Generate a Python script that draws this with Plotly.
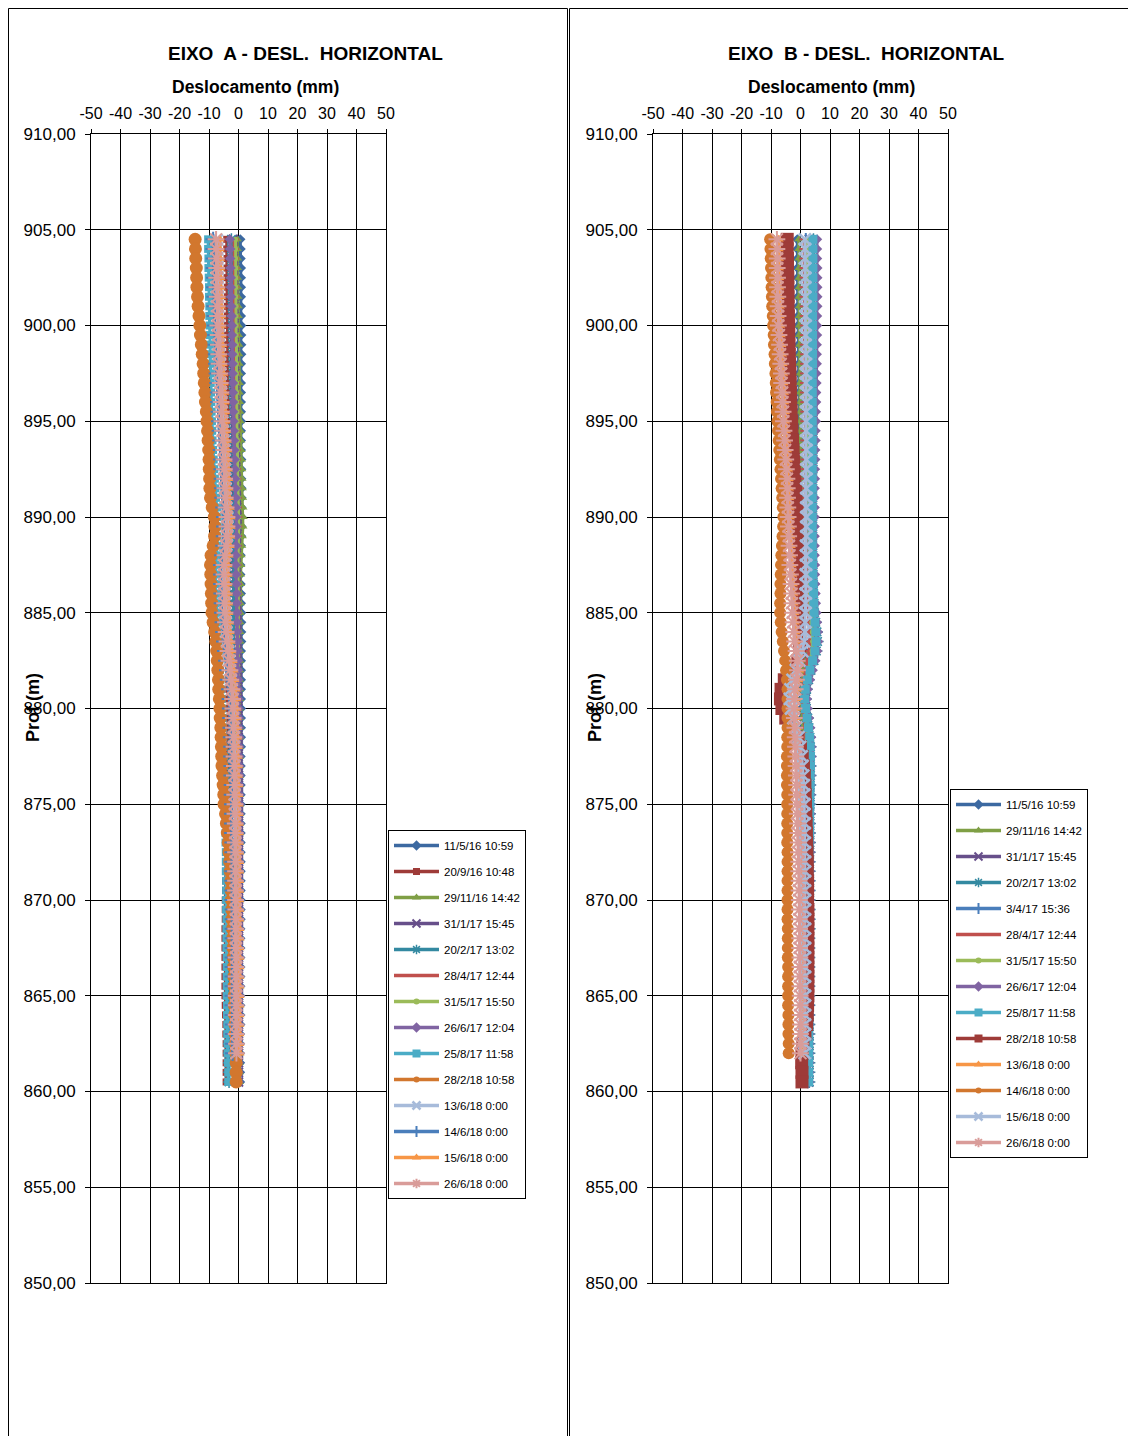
import plotly.graph_objects as go

W, H = 1128, 1436

# ---------------- data ----------------
DEPTH = [904.5, 904.0, 903.5, 903.0, 902.5, 902.0, 901.5, 901.0, 900.5, 900.0,
         899.5, 899.0, 898.5, 898.0, 897.5, 897.0, 896.5, 896.0, 895.5, 895.0,
         894.5, 894.0, 893.5, 893.0, 892.5, 892.0, 891.5, 891.0, 890.5, 890.0,
         889.5, 889.0, 888.5, 888.0, 887.5, 887.0, 886.5, 886.0, 885.5, 885.0,
         884.5, 884.0, 883.5, 883.0, 882.5, 882.0, 881.5, 881.0, 880.5, 880.0,
         879.5, 879.0, 878.5, 878.0, 877.5, 877.0, 876.5, 876.0, 875.5, 875.0,
         874.5, 874.0, 873.5, 873.0, 872.5, 872.0, 871.5, 871.0, 870.5, 870.0,
         869.5, 869.0, 868.5, 868.0, 867.5, 867.0, 866.5, 866.0, 865.5, 865.0,
         864.5, 864.0, 863.5, 863.0, 862.5, 862.0, 861.5, 861.0, 860.5]

X_TICKS = [-50, -40, -30, -20, -10, 0, 10, 20, 30, 40, 50]
X_TICK_TEXT = ["-50", "-40", "-30", "-20", "-10", "0", "10", "20", "30", "40", "50"]
Y_TICKS = [850, 855, 860, 865, 870, 875, 880, 885, 890, 895, 900, 905, 910]

# ---- EIXO A ----
A_NAMES = ["11/5/16 10:59", "20/9/16 10:48", "29/11/16 14:42", "31/1/17 15:45",
           "20/2/17 13:02", "28/4/17 12:44", "31/5/17 15:50", "26/6/17 12:04",
           "25/8/17 11:58", "28/2/18 10:58", "13/6/18 0:00", "14/6/18 0:00",
           "15/6/18 0:00", "26/6/18 0:00"]

A_110516 = [0.6, 0.7, 0.7, 0.8, 0.8, 0.8, 0.8, 0.8, 0.8, 0.9,
            0.9, 0.9, 0.9, 0.8, 0.8, 0.8, 0.8, 0.8, 0.8, 0.8,
            0.8, 0.8, 0.8, 0.9, 0.9, 0.9, 1.0, 1.0, 1.0, 1.0,
            1.0, 0.9, 0.8, 0.7, 0.6, 0.6, 0.7, 0.8, 0.8, 0.9,
            0.9, 0.9, 0.9, 0.8, 0.8, 0.8, 0.8, 0.8, 0.8, 0.8,
            0.8, 0.8, 0.8, 0.8, 0.7, 0.7, 0.7, 0.7, 0.7, 0.7,
            0.7, 0.7, 0.7, 0.7, 0.7, 0.7, 0.7, 0.7, 0.7, 0.7,
            0.7, 0.7, 0.6, 0.6, 0.6, 0.6, 0.6, 0.6, 0.6, 0.6,
            0.6, 0.6, 0.6, 0.5, 0.5, 0.5, 0.5, 0.5, 0.5]
A_200916 = [-4.0, -4.0, -3.9, -3.9, -3.9, -3.8, -3.8, -3.8, -3.8, -3.8,
            -3.7, -3.7, -3.7, -3.6, -3.6, -3.6, -3.5, -3.5, -3.5, -3.5,
            -3.4, -3.4, -3.3, -3.3, -3.2, -3.2, -3.1, -3.1, -3.0, -3.0,
            -3.0, -3.0, -3.1, -3.2, -3.2, -3.2, -3.1, -3.1, -3.0, -3.0,
            -3.0, -3.0, -3.1, -3.1, -3.2, -3.2, -3.3, -3.3, -3.4, -3.5,
            -3.5, -3.6, -3.6, -3.7, -3.7, -3.8, -3.8, -3.9, -3.9, -4.0,
            -4.0, -4.1, -4.1, -4.2, -4.2, -4.3, -4.3, -4.4, -4.4, -4.5,
            -4.5, -4.5, -4.6, -4.6, -4.6, -4.6, -4.6, -4.6, -4.6, -4.6,
            -4.5, -4.4, -4.3, -4.3, -4.2, -4.2, -4.2, -4.2, -4.2]
A_291116 = [-0.4, -0.4, -0.3, -0.3, -0.3, -0.2, -0.2, -0.1, -0.1, 0.0,
            0.0, 0.1, 0.1, 0.2, 0.2, 0.3, 0.3, 0.4, 0.5, 0.6,
            0.7, 0.8, 0.9, 1.0, 1.1, 1.2, 1.3, 1.4, 1.5, 1.6,
            1.5, 1.3, 1.1, 0.9, 0.8, 0.7, 0.7, 0.6, 0.6, 0.6,
            0.5, 0.5, 0.5, 0.5, 0.5, 0.4, 0.4, 0.4, 0.4, 0.4,
            0.4, 0.4, 0.4, 0.4, 0.4, 0.4, 0.4, 0.4, 0.4, 0.4,
            0.4, 0.4, 0.4, 0.4, 0.4, 0.4, 0.4, 0.4, 0.4, 0.4,
            0.4, 0.4, 0.4, 0.4, 0.3, 0.3, 0.3, 0.3, 0.3, 0.3,
            0.3, 0.3, 0.3, 0.3, 0.3, 0.3, 0.3, 0.3, 0.3]
A_310117 = [-1.8, -1.8, -1.7, -1.7, -1.7, -1.6, -1.6, -1.6, -1.5, -1.5,
            -1.5, -1.4, -1.4, -1.4, -1.3, -1.3, -1.3, -1.2, -1.2, -1.1,
            -1.1, -1.0, -1.0, -0.9, -0.9, -0.8, -0.8, -0.7, -0.6, -0.5,
            -0.5, -0.6, -0.7, -0.8, -0.8, -0.7, -0.7, -0.6, -0.6, -0.5,
            -0.5, -0.5, -0.4, -0.4, -0.4, -0.3, -0.3, -0.3, -0.2, -0.2,
            -0.2, -0.2, -0.1, -0.1, -0.1, -0.1, 0.0, 0.0, 0.0, 0.0,
            0.0, 0.0, 0.0, 0.0, 0.0, 0.0, 0.0, 0.0, 0.0, 0.0,
            0.0, 0.0, 0.0, 0.0, 0.0, 0.0, 0.0, 0.0, 0.0, 0.0,
            0.0, 0.0, 0.0, 0.0, 0.0, 0.0, 0.0, 0.0, 0.0]
A_200217 = [-2.4, -2.4, -2.3, -2.3, -2.3, -2.2, -2.2, -2.2, -2.1, -2.1,
            -2.1, -2.0, -2.0, -2.0, -1.9, -1.9, -1.9, -1.8, -1.8, -1.8,
            -1.7, -1.7, -1.6, -1.6, -1.5, -1.5, -1.4, -1.4, -1.3, -1.2,
            -1.2, -1.3, -1.4, -1.5, -1.6, -1.6, -1.6, -1.6, -1.6, -1.6,
            -1.6, -1.7, -1.7, -1.8, -1.8, -1.9, -1.9, -2.0, -2.0, -2.1,
            -2.1, -2.2, -2.2, -2.3, -2.3, -2.4, -2.4, -2.5, -2.5, -2.6,
            -2.6, -2.6, -2.7, -2.7, -2.7, -2.8, -2.8, -2.8, -2.9, -2.9,
            -2.9, -2.9, -3.0, -3.0, -3.0, -3.0, -3.1, -3.1, -3.1, -3.1,
            -3.1, -3.2, -3.2, -3.2, -3.2, -3.2, -3.2, -3.2, -3.2]
A_280417 = [-1.5, -1.5, -1.5, -1.4, -1.4, -1.4, -1.4, -1.3, -1.3, -1.3,
            -1.3, -1.2, -1.2, -1.2, -1.2, -1.1, -1.1, -1.1, -1.0, -1.0,
            -1.0, -0.9, -0.9, -0.8, -0.8, -0.7, -0.7, -0.6, -0.5, -0.4,
            -0.4, -0.5, -0.6, -0.7, -0.7, -0.7, -0.6, -0.6, -0.6, -0.5,
            -0.5, -0.5, -0.5, -0.4, -0.4, -0.4, -0.4, -0.4, -0.3, -0.3,
            -0.3, -0.3, -0.3, -0.3, -0.3, -0.3, -0.3, -0.3, -0.3, -0.3,
            -0.3, -0.3, -0.3, -0.3, -0.3, -0.4, -0.4, -0.4, -0.4, -0.4,
            -0.4, -0.4, -0.4, -0.4, -0.4, -0.4, -0.4, -0.4, -0.4, -0.4,
            -0.4, -0.4, -0.4, -0.4, -0.4, -0.4, -0.4, -0.4, -0.4]
A_310517 = [-1.0, -1.0, -1.0, -0.9, -0.9, -0.9, -0.9, -0.8, -0.8, -0.8,
            -0.8, -0.7, -0.7, -0.7, -0.7, -0.6, -0.6, -0.6, -0.5, -0.5,
            -0.5, -0.4, -0.4, -0.3, -0.3, -0.2, -0.2, -0.1, 0.0, 0.1,
            0.1, 0.0, -0.1, -0.2, -0.2, -0.2, -0.1, -0.1, -0.1, 0.0,
            0.0, 0.0, 0.0, 0.0, 0.0, 0.0, 0.0, 0.0, 0.0, 0.0,
            0.0, 0.0, 0.0, 0.0, 0.0, 0.0, 0.0, 0.0, 0.0, 0.0,
            0.0, 0.0, 0.0, 0.0, 0.0, 0.0, 0.0, 0.0, 0.0, 0.0,
            0.0, 0.0, 0.0, 0.0, 0.0, 0.0, 0.0, 0.0, 0.0, 0.0,
            0.0, 0.0, 0.0, 0.0, 0.0, 0.0, 0.0, 0.0, 0.0]
A_260617 = [-2.9, -2.8, -2.8, -2.7, -2.6, -2.6, -2.5, -2.4, -2.3, -2.2,
            -2.2, -2.1, -2.1, -2.0, -2.0, -1.9, -1.9, -1.8, -1.8, -1.7,
            -1.6, -1.5, -1.4, -1.3, -1.2, -1.1, -1.0, -0.9, -0.8, -0.8,
            -0.7, -0.7, -0.8, -0.9, -0.9, -0.8, -0.7, -0.6, -0.6, -0.5,
            -0.5, -0.4, -0.3, -0.3, -0.2, -0.2, -0.1, -0.1, 0.0, 0.0,
            0.1, 0.1, 0.2, 0.2, 0.2, 0.3, 0.3, 0.3, 0.3, 0.3,
            0.3, 0.3, 0.3, 0.2, 0.2, 0.2, 0.2, 0.2, 0.2, 0.2,
            0.2, 0.2, 0.2, 0.2, 0.2, 0.2, 0.2, 0.2, 0.2, 0.2,
            0.1, 0.1, 0.1, 0.1, 0.0, 0.0, 0.0, 0.0, 0.0]
A_250817 = [-10.3, -10.3, -10.2, -10.2, -10.1, -10.0, -10.0, -9.9, -9.9, -9.8,
            -9.7, -9.7, -9.6, -9.5, -9.4, -9.4, -9.3, -9.2, -9.1, -9.0,
            -8.9, -8.8, -8.6, -8.4, -8.2, -8.0, -7.8, -7.6, -7.3, -7.0,
            -7.0, -7.1, -7.3, -7.6, -7.8, -7.8, -7.8, -7.7, -7.6, -7.5,
            -7.3, -7.1, -6.9, -6.7, -6.5, -6.3, -6.1, -5.9, -5.7, -5.5,
            -5.4, -5.3, -5.2, -5.1, -5.0, -4.9, -4.8, -4.7, -4.6, -4.5,
            -4.5, -4.4, -4.4, -4.4, -4.3, -4.3, -4.3, -4.2, -4.2, -4.2,
            -4.2, -4.1, -4.1, -4.1, -4.1, -4.0, -4.0, -4.0, -4.0, -4.0,
            -3.9, -3.9, -3.8, -3.8, -3.7, -3.7, -3.6, -3.5, -3.5]
A_280218 = [-14.7, -14.6, -14.5, -14.3, -14.2, -14.1, -13.9, -13.7, -13.4, -13.1,
            -12.9, -12.6, -12.3, -12.0, -11.8, -11.6, -11.4, -11.2, -10.9, -10.7,
            -10.5, -10.3, -10.1, -10.0, -9.9, -9.8, -9.7, -9.5, -8.9, -8.2,
            -8.0, -8.1, -8.6, -9.3, -9.5, -9.4, -9.3, -9.2, -9.1, -9.0,
            -8.6, -8.1, -7.7, -7.4, -7.2, -7.0, -6.8, -6.7, -6.5, -6.3,
            -6.2, -6.0, -5.9, -5.8, -5.7, -5.6, -5.4, -5.2, -5.0, -4.9,
            -4.4, -4.1, -3.8, -3.5, -3.2, -3.0, -2.8, -2.6, -2.5, -2.4,
            -2.3, -2.2, -2.1, -2.0, -1.9, -1.8, -1.7, -1.6, -1.5, -1.5,
            -1.4, -1.3, -1.2, -1.1, -1.0, -0.9, -0.8, -0.8, -0.8]
A_130618 = [-7.0, -7.0, -6.9, -6.9, -6.8, -6.8, -6.7, -6.7, -6.6, -6.5,
            -6.4, -6.3, -6.2, -6.1, -5.9, -5.7, -5.6, -5.5, -5.4, -5.2,
            -5.0, -4.8, -4.6, -4.5, -4.4, -4.3, -4.2, -4.1, -3.8, -3.5,
            -3.5, -3.6, -3.8, -4.2, -4.5, -4.5, -4.5, -4.4, -4.3, -4.2,
            -4.0, -3.8, -3.5, -3.2, -2.9, -2.6, -2.3, -2.0, -1.8, -1.7,
            -1.6, -1.5, -1.4, -1.3, -1.3, -1.2, -1.2, -1.1, -1.1, -1.0,
            -1.0, -1.0, -0.9, -0.9, -0.9, -0.9, -0.9, -0.8, -0.8, -0.8,
            -0.8, -0.8, -0.8, -0.8, -0.8, -0.7, -0.7, -0.7, -0.7, -0.7,
            -0.7, -0.7, -0.7, -0.7, -0.7, -0.7, None, None, None]
A_140618 = [-8.6, -8.6, -8.5, -8.5, -8.4, -8.4, -8.3, -8.3, -8.2, -8.1,
            -8.0, -7.9, -7.8, -7.7, -7.5, -7.3, -7.1, -7.0, -6.9, -6.7,
            -6.5, -6.3, -6.1, -6.0, -5.9, -5.8, -5.7, -5.6, -5.3, -5.0,
            -5.0, -5.1, -5.3, -5.7, -6.0, -6.0, -6.0, -5.9, -5.8, -5.7,
            -5.5, -5.3, -5.0, -4.7, -4.3, -4.0, -3.7, -3.3, -3.1, -3.0,
            -2.9, -2.8, -2.7, -2.6, -2.6, -2.5, -2.5, -2.4, -2.4, -2.3,
            -2.3, -2.3, -2.3, -2.2, -2.2, -2.2, -2.2, -2.2, -2.2, -2.2,
            -2.1, -2.1, -2.1, -2.1, -2.1, -2.1, -2.1, -2.1, -2.1, -2.1,
            -2.1, -2.1, -2.0, -2.0, -2.0, -2.0, None, None, None]
A_150618 = [-6.4, -6.4, -6.3, -6.2, -6.2, -6.1, -6.0, -6.0, -5.9, -5.8,
            -5.7, -5.6, -5.5, -5.4, -5.2, -5.0, -4.8, -4.7, -4.6, -4.4,
            -4.2, -4.0, -3.8, -3.7, -3.6, -3.5, -3.4, -3.3, -3.0, -2.7,
            -2.7, -2.8, -3.0, -3.4, -3.7, -3.7, -3.7, -3.6, -3.5, -3.4,
            -3.2, -3.0, -2.7, -2.4, -2.0, -1.7, -1.4, -1.0, -0.8, -0.7,
            -0.6, -0.5, -0.4, -0.3, -0.3, -0.2, -0.2, -0.1, -0.1, 0.0,
            0.0, 0.1, 0.1, 0.1, 0.2, 0.2, 0.2, 0.2, 0.2, 0.2,
            0.3, 0.3, 0.3, 0.3, 0.3, 0.3, 0.3, 0.3, 0.3, 0.3,
            0.3, 0.3, 0.3, 0.3, 0.3, 0.3, None, None, None]
A_260618 = [-7.6, -7.6, -7.5, -7.4, -7.4, -7.3, -7.2, -7.2, -7.1, -7.0,
            -6.9, -6.8, -6.7, -6.6, -6.4, -6.2, -6.0, -5.9, -5.8, -5.6,
            -5.4, -5.2, -5.0, -4.9, -4.8, -4.7, -4.6, -4.5, -4.2, -3.9,
            -3.9, -4.0, -4.2, -4.6, -4.9, -4.9, -4.9, -4.8, -4.7, -4.6,
            -4.4, -4.2, -3.9, -3.6, -3.2, -2.9, -2.6, -2.2, -2.0, -1.9,
            -1.8, -1.7, -1.6, -1.5, -1.5, -1.4, -1.4, -1.3, -1.3, -1.2,
            -1.2, -1.1, -1.1, -1.1, -1.0, -1.0, -1.0, -1.0, -1.0, -1.0,
            -0.9, -0.9, -0.9, -0.9, -0.9, -0.8, -0.8, -0.8, -0.8, -0.8,
            -0.8, -0.8, -0.8, -0.8, -0.7, -0.7, None, None, None]

# ---- EIXO B ----
B_NAMES = ["11/5/16 10:59", "29/11/16 14:42", "31/1/17 15:45", "20/2/17 13:02",
           "3/4/17 15:36", "28/4/17 12:44", "31/5/17 15:50", "26/6/17 12:04",
           "25/8/17 11:58", "28/2/18 10:58", "13/6/18 0:00", "14/6/18 0:00",
           "15/6/18 0:00", "26/6/18 0:00"]

B_110516 = [-1.1, -1.1, -1.0, -1.0, -1.0, -0.9, -0.9, -0.9, -0.8, -0.8,
            -0.8, -0.7, -0.7, -0.6, -0.6, -0.5, -0.5, -0.4, -0.4, -0.3,
            -0.3, -0.2, -0.2, -0.1, -0.1, 0.0, 0.0, 0.1, 0.1, 0.2,
            0.2, 0.3, 0.3, 0.4, 0.4, 0.5, 0.5, 0.6, 0.7, 0.8,
            0.9, 1.0, 1.2, 1.4, 1.5, 1.2, 0.8, 0.4, 0.3, 0.3,
            0.5, 0.8, 1.1, 1.4, 1.6, 1.7, 1.8, 1.8, 1.9, 1.9,
            1.9, 2.0, 2.0, 2.0, 2.0, 2.0, 2.1, 2.1, 2.1, 2.1,
            2.1, 2.1, 2.1, 2.1, 2.1, 2.1, 2.1, 2.1, 2.1, 2.1,
            2.1, 2.1, 2.1, 2.0, 2.0, 2.0, 2.0, 2.0, 2.0]
B_291116 = [-0.6, -0.6, -0.6, -0.5, -0.5, -0.5, -0.5, -0.4, -0.4, -0.4,
            -0.4, -0.3, -0.3, -0.3, -0.2, -0.2, -0.2, -0.1, -0.1, -0.1,
            0.0, 0.0, 0.0, 0.1, 0.1, 0.1, 0.2, 0.2, 0.2, 0.3,
            0.3, 0.3, 0.4, 0.4, 0.5, 0.5, 0.6, 0.6, 0.7, 0.8,
            0.9, 1.0, 1.1, 1.2, 1.2, 1.0, 0.7, 0.4, 0.3, 0.4,
            0.6, 0.9, 1.1, 1.3, 1.5, 1.6, 1.6, 1.7, 1.7, 1.7,
            1.7, 1.7, 1.8, 1.8, 1.8, 1.8, 1.8, 1.8, 1.8, 1.8,
            1.8, 1.8, 1.8, 1.8, 1.8, 1.8, 1.8, 1.8, 1.8, 1.8,
            1.8, 1.8, 1.8, 1.8, 1.8, 1.8, 1.8, 1.8, 1.8]
B_310117 = [3.0, 3.0, 3.0, 3.1, 3.1, 3.1, 3.1, 3.2, 3.2, 3.2,
            3.2, 3.2, 3.3, 3.3, 3.3, 3.3, 3.3, 3.4, 3.4, 3.4,
            3.4, 3.4, 3.5, 3.5, 3.5, 3.5, 3.6, 3.6, 3.6, 3.6,
            3.6, 3.7, 3.7, 3.7, 3.8, 3.8, 3.9, 4.0, 4.1, 4.2,
            4.4, 4.6, 4.7, 4.5, 4.0, 3.2, 2.4, 1.8, 1.6, 1.8,
            2.2, 2.5, 2.8, 3.0, 3.1, 3.1, 3.1, 3.1, 3.0, 3.0,
            3.0, 3.0, 3.0, 3.0, 3.0, 2.9, 2.9, 2.9, 2.9, 2.9,
            2.9, 2.9, 2.9, 2.9, 2.9, 2.9, 2.9, 2.9, 2.9, 2.9,
            2.8, 2.8, 2.8, 2.8, 2.8, 2.8, 2.8, 2.8, 2.8]
B_200217 = [4.4, 4.4, 4.4, 4.4, 4.4, 4.4, 4.3, 4.3, 4.3, 4.3,
            4.3, 4.3, 4.3, 4.3, 4.3, 4.3, 4.3, 4.3, 4.3, 4.3,
            4.3, 4.3, 4.3, 4.3, 4.3, 4.2, 4.2, 4.2, 4.2, 4.2,
            4.2, 4.2, 4.2, 4.2, 4.3, 4.3, 4.4, 4.5, 4.6, 4.8,
            5.2, 5.6, 5.8, 5.4, 4.6, 3.6, 2.8, 2.1, 1.8, 2.0,
            2.5, 2.9, 3.2, 3.4, 3.4, 3.4, 3.4, 3.3, 3.3, 3.3,
            3.2, 3.2, 3.2, 3.2, 3.1, 3.1, 3.1, 3.1, 3.1, 3.1,
            3.1, 3.1, 3.1, 3.0, 3.0, 3.0, 3.0, 3.0, 3.0, 3.0,
            3.0, 3.0, 3.0, 3.0, 3.0, 3.0, 3.0, 3.0, 3.0]
B_030417 = [1.8, 1.8, 1.8, 1.8, 1.9, 1.9, 1.9, 1.9, 1.9, 2.0,
            2.0, 2.0, 2.0, 2.0, 2.1, 2.1, 2.1, 2.1, 2.1, 2.1,
            2.1, 2.1, 2.2, 2.2, 2.2, 2.2, 2.2, 2.3, 2.3, 2.3,
            2.3, 2.4, 2.4, 2.5, 2.5, 2.6, 2.7, 2.8, 2.9, 3.0,
            3.2, 3.4, 3.5, 3.3, 2.8, 2.1, 1.5, 1.0, 0.9, 1.1,
            1.5, 1.9, 2.3, 2.5, 2.6, 2.7, 2.7, 2.7, 2.7, 2.7,
            2.7, 2.7, 2.7, 2.6, 2.6, 2.6, 2.6, 2.6, 2.6, 2.6,
            2.6, 2.6, 2.6, 2.6, 2.6, 2.6, 2.6, 2.6, 2.6, 2.6,
            2.6, 2.6, 2.6, 2.5, 2.5, 2.5, 2.5, 2.5, 2.5]
B_280417 = [1.2, 1.2, 1.2, 1.3, 1.3, 1.3, 1.3, 1.4, 1.4, 1.4,
            1.4, 1.4, 1.5, 1.5, 1.5, 1.5, 1.5, 1.6, 1.6, 1.6,
            1.6, 1.6, 1.7, 1.7, 1.7, 1.7, 1.8, 1.8, 1.8, 1.8,
            1.9, 1.9, 2.0, 2.0, 2.1, 2.2, 2.3, 2.4, 2.5, 2.6,
            2.8, 3.0, 3.1, 2.9, 2.4, 1.7, 1.1, 0.7, 0.6, 0.8,
            1.2, 1.6, 2.0, 2.2, 2.3, 2.4, 2.4, 2.4, 2.4, 2.4,
            2.4, 2.4, 2.4, 2.4, 2.4, 2.3, 2.3, 2.3, 2.3, 2.3,
            2.3, 2.3, 2.3, 2.3, 2.3, 2.3, 2.3, 2.3, 2.3, 2.3,
            2.3, 2.3, 2.3, 2.3, 2.2, 2.2, 2.2, 2.2, 2.2]
B_310517 = [2.2, 2.2, 2.2, 2.3, 2.3, 2.3, 2.3, 2.4, 2.4, 2.4,
            2.4, 2.4, 2.5, 2.5, 2.5, 2.5, 2.5, 2.6, 2.6, 2.6,
            2.6, 2.6, 2.7, 2.7, 2.7, 2.7, 2.8, 2.8, 2.8, 2.8,
            2.9, 2.9, 3.0, 3.0, 3.1, 3.2, 3.3, 3.4, 3.5, 3.6,
            3.8, 4.0, 4.1, 3.9, 3.4, 2.7, 2.0, 1.5, 1.3, 1.5,
            1.9, 2.3, 2.7, 2.9, 3.0, 3.1, 3.1, 3.1, 3.1, 3.1,
            3.1, 3.1, 3.1, 3.1, 3.1, 3.0, 3.0, 3.0, 3.0, 3.0,
            3.0, 3.0, 3.0, 3.0, 3.0, 3.0, 3.0, 3.0, 3.0, 3.0,
            3.0, 3.0, 3.0, 3.0, 2.9, 2.9, 2.9, 2.9, 2.9]
B_260617 = [5.6, 5.6, 5.6, 5.7, 5.7, 5.7, 5.7, 5.7, 5.6, 5.6,
            5.6, 5.5, 5.5, 5.5, 5.4, 5.4, 5.3, 5.3, 5.2, 5.2,
            5.1, 5.1, 5.0, 5.0, 4.9, 4.9, 4.8, 4.8, 4.8, 4.8,
            4.8, 4.8, 4.8, 4.8, 4.9, 4.9, 5.0, 5.1, 5.2, 5.4,
            5.6, 5.9, 6.0, 5.7, 5.0, 4.1, 3.2, 2.5, 2.2, 2.4,
            2.9, 3.3, 3.6, 3.7, 3.7, 3.6, 3.6, 3.5, 3.5, 3.4,
            3.4, 3.3, 3.3, 3.3, 3.3, 3.2, 3.2, 3.2, 3.2, 3.2,
            3.2, 3.2, 3.1, 3.1, 3.1, 3.1, 3.1, 3.1, 3.1, 3.1,
            3.1, 3.1, 3.0, 3.0, 3.0, 3.0, 3.0, 3.0, 3.0]
B_250817 = [4.2, 4.2, 4.2, 4.2, 4.2, 4.2, 4.2, 4.2, 4.1, 4.1,
            4.1, 4.1, 4.1, 4.1, 4.0, 4.0, 4.0, 4.0, 4.0, 4.0,
            4.0, 4.0, 4.0, 4.0, 4.0, 4.0, 4.0, 4.0, 4.0, 4.0,
            4.0, 4.0, 4.0, 4.1, 4.1, 4.2, 4.3, 4.4, 4.5, 4.6,
            4.9, 5.2, 5.3, 4.9, 4.1, 3.2, 2.3, 1.6, 1.4, 1.7,
            2.2, 2.7, 3.1, 3.3, 3.4, 3.4, 3.3, 3.3, 3.2, 3.2,
            3.1, 3.1, 3.1, 3.0, 3.0, 3.0, 3.0, 3.0, 2.9, 2.9,
            2.9, 2.9, 2.9, 2.9, 2.9, 2.9, 2.9, 2.9, 2.9, 2.9,
            2.9, 2.9, 2.9, 2.8, 2.8, 2.8, 2.8, 2.8, 2.8]
B_280218 = [-4.5, -4.5, -4.4, -4.4, -4.3, -4.3, -4.2, -4.2, -4.1, -4.0,
            -4.0, -3.9, -3.8, -3.7, -3.6, -3.5, -3.4, -3.3, -3.2, -3.0,
            -2.9, -2.7, -2.5, -2.3, -2.1, -1.9, -1.7, -1.5, -1.3, -1.2,
            -1.1, -1.1, -1.0, -1.0, -0.9, -0.9, -0.8, -0.8, -0.7, -0.7,
            -0.6, -0.4, -0.2, -0.3, -0.9, -2.5, -5.5, -6.6, -6.8, -6.3,
            -5.0, -2.8, -1.0, 0.0, 0.6, 1.0, 1.3, 1.5, 1.6, 1.7,
            1.8, 1.9, 2.0, 2.1, 2.2, 2.3, 2.3, 2.4, 2.4, 2.4,
            2.5, 2.5, 2.5, 2.5, 2.5, 2.5, 2.5, 2.5, 2.5, 2.5,
            2.4, 2.3, 2.1, 1.5, 0.8, 0.5, 0.4, 0.5, 0.5]
B_130618 = [-7.4, -7.4, -7.3, -7.3, -7.2, -7.2, -7.1, -7.0, -7.0, -6.9,
            -6.7, -6.5, -6.3, -6.1, -5.9, -5.8, -5.6, -5.5, -5.3, -5.2,
            -5.0, -4.8, -4.6, -4.4, -4.2, -4.0, -3.9, -3.8, -3.7, -3.6,
            -3.5, -3.4, -3.3, -3.1, -3.0, -2.8, -2.6, -2.4, -2.3, -2.1,
            -1.9, -1.7, -1.4, -0.9, -0.5, -0.4, -0.8, -1.2, -1.5, -1.6,
            -1.5, -1.3, -1.2, -1.1, -1.0, -0.9, -0.8, -0.7, -0.7, -0.6,
            -0.5, -0.4, -0.3, -0.2, -0.1, 0.0, 0.0, 0.1, 0.1, 0.2,
            0.2, 0.2, 0.3, 0.3, 0.3, 0.4, 0.4, 0.4, 0.4, 0.5,
            0.5, 0.5, 0.5, 0.5, 0.5, 0.5, None, None, None]
B_140618 = [-10.3, -10.2, -10.1, -10.0, -9.9, -9.8, -9.7, -9.6, -9.4, -9.3,
            -9.1, -9.0, -8.8, -8.7, -8.5, -8.4, -8.3, -8.1, -8.0, -7.8,
            -7.6, -7.4, -7.2, -7.0, -6.8, -6.6, -6.4, -6.2, -6.0, -5.8,
            -5.9, -6.1, -6.3, -6.5, -6.6, -6.7, -6.8, -6.8, -6.9, -6.9,
            -6.7, -6.4, -6.0, -5.6, -5.2, -4.9, -4.6, -4.4, -4.4, -4.4,
            -4.4, -4.4, -4.5, -4.5, -4.6, -4.6, -4.6, -4.6, -4.5, -4.5,
            -4.5, -4.5, -4.5, -4.5, -4.4, -4.4, -4.4, -4.4, -4.4, -4.4,
            -4.4, -4.4, -4.3, -4.3, -4.3, -4.3, -4.2, -4.2, -4.2, -4.2,
            -4.2, -4.1, -4.1, -4.1, -4.0, -4.0, None, None, None]
B_150618 = [1.5, 1.5, 1.5, 1.6, 1.6, 1.6, 1.6, 1.7, 1.7, 1.7,
            1.7, 1.7, 1.8, 1.8, 1.8, 1.8, 1.9, 1.9, 1.9, 1.9,
            1.9, 2.0, 2.0, 2.0, 2.0, 2.0, 2.0, 2.0, 2.0, 2.0,
            2.0, 2.0, 1.9, 1.9, 1.9, 1.8, 1.8, 1.8, 1.7, 1.7,
            1.6, 1.5, 1.2, 0.6, -0.4, -1.6, -2.7, -3.4, -3.6, -3.2,
            -2.4, -1.5, -0.7, -0.1, 0.4, 0.7, 0.9, 1.1, 1.2, 1.3,
            1.3, 1.4, 1.4, 1.4, 1.5, 1.5, 1.5, 1.5, 1.5, 1.5,
            1.5, 1.5, 1.5, 1.5, 1.5, 1.5, 1.5, 1.5, 1.5, 1.5,
            1.5, 1.5, 1.5, 1.5, 1.4, 1.4, None, None, None]
B_260618 = [-8.0, -8.0, -7.9, -7.9, -7.8, -7.8, -7.7, -7.6, -7.6, -7.5,
            -7.3, -7.1, -6.9, -6.7, -6.5, -6.4, -6.2, -6.1, -5.9, -5.8,
            -5.6, -5.4, -5.2, -5.0, -4.8, -4.6, -4.5, -4.4, -4.3, -4.2,
            -4.1, -4.0, -3.9, -3.7, -3.6, -3.4, -3.2, -3.0, -2.9, -2.7,
            -2.5, -2.3, -2.0, -1.5, -1.1, -1.0, -1.4, -1.8, -2.1, -2.2,
            -2.1, -1.9, -1.8, -1.7, -1.6, -1.5, -1.4, -1.3, -1.3, -1.2,
            -1.1, -1.0, -0.9, -0.8, -0.7, -0.6, -0.6, -0.5, -0.5, -0.4,
            -0.4, -0.4, -0.3, -0.3, -0.3, -0.2, -0.2, -0.2, -0.2, -0.1,
            -0.1, -0.1, 0.0, 0.0, 0.0, 0.0, None, None, None]

A_SERIES = [A_110516, A_200916, A_291116, A_310117, A_200217, A_280417, A_310517,
            A_260617, A_250817, A_280218, A_130618, A_140618, A_150618, A_260618]
B_SERIES = [B_110516, B_291116, B_310117, B_200217, B_030417, B_280417, B_310517,
            B_260617, B_250817, B_280218, B_130618, B_140618, B_150618, B_260618]

# ---------------- styles ----------------
C = {
    "dblue": "#3C69A1", "dred": "#9E3B38", "green": "#7F9F45", "dpurp": "#674F8A",
    "teal": "#3389A1", "red": "#C0504D", "lgreen": "#9BBB59", "purp": "#8064A2",
    "cyan": "#4BACC6", "borange": "#D2772E", "gblue": "#A7BBDA", "blue": "#4A7EBB",
    "orange": "#F79646", "pink": "#D99C99",
}
# (color, symbol, size in plot, open-symbol line width)
A_STYLE = [
    (C["dblue"], "diamond", 8, 0), (C["dred"], "square", 7, 0),
    (C["green"], "triangle-up", 8, 0), (C["dpurp"], "x-thin-open", 9, 2),
    (C["teal"], "asterisk-open", 10, 1.5), (C["red"], "line-ew-open", 7, 2),
    (C["lgreen"], "circle", 5, 0), (C["purp"], "diamond", 8, 0),
    (C["cyan"], "square", 8, 0), (C["borange"], "circle", 13, 0),
    (C["gblue"], "x-thin-open", 10, 2.5), (C["blue"], "cross-thin-open", 11, 2),
    (C["orange"], "triangle-up", 9, 0), (C["pink"], "asterisk-open", 14, 2),
]
B_STYLE = [
    (C["dblue"], "diamond", 8, 0), (C["green"], "triangle-up", 8, 0),
    (C["dpurp"], "x-thin-open", 9, 2), (C["teal"], "asterisk-open", 10, 1.5),
    (C["blue"], "cross-thin-open", 9, 2), (C["red"], "line-ew-open", 7, 2),
    (C["lgreen"], "circle", 5, 0), (C["purp"], "diamond", 8, 0),
    (C["cyan"], "square", 9, 0), (C["dred"], "square", 13, 0),
    (C["orange"], "triangle-up", 9, 0), (C["borange"], "circle", 12, 0),
    (C["gblue"], "x-thin-open", 12, 2.5), (C["pink"], "asterisk-open", 14, 2),
]


def marker(style, size=None):
    col, sym, sz, lw = style
    sz = sz if size is None else size
    if sym.endswith("-open"):
        return dict(symbol=sym, size=sz, color=col, line=dict(color=col, width=lw))
    return dict(symbol=sym, size=sz, color=col, line=dict(width=0))


fig = go.Figure()


def add_panel(names, series, styles, xa, ya, leg, tag):
    for vals, st in zip(series, styles):
        fig.add_trace(go.Scatter(
            x=vals, y=DEPTH, mode="lines+markers", xaxis=xa, yaxis=ya,
            line=dict(color=st[0], width=3), marker=marker(st),
            showlegend=False, connectgaps=False, hoverinfo="skip"))
    for i, (nm, st) in enumerate(zip(names, styles)):
        legsz = 6 if st[1] == "circle" else min(st[2], 8)
        fig.add_trace(go.Scatter(
            x=[None], y=[None], mode="lines+markers", name=nm, xaxis=xa, yaxis=ya,
            line=dict(color=st[0], width=3.5), marker=marker(st, legsz),
            legend=leg, legendgroup=f"{tag}{i}", showlegend=True))


add_panel(A_NAMES, A_SERIES, A_STYLE, "x", "y", "legend", "a")
add_panel(B_NAMES, B_SERIES, B_STYLE, "x2", "y2", "legend2", "b")


def px(x):
    return x / W


def py(y):
    return 1 - y / H


FONT = "Liberation Sans, Arial, sans-serif"
xax = dict(range=[-50, 50], tickvals=X_TICKS, ticktext=X_TICK_TEXT, side="top",
           showgrid=True, tickangle=0, automargin=False,
           gridcolor="black", gridwidth=1, showline=True, linecolor="black",
           linewidth=1, mirror=True, zeroline=False, ticks="outside", ticklen=4,
           tickcolor="black", tickfont=dict(family=FONT, size=16, color="black"),
           ticklabelstandoff=4, fixedrange=True)
yax = dict(range=[850, 910], tickvals=Y_TICKS, tickformat=".2f", showgrid=True,
           automargin=False,
           gridcolor="black", gridwidth=1, showline=True, linecolor="black",
           linewidth=1, mirror=True, zeroline=False, ticks="outside", ticklen=5,
           tickcolor="black", tickfont=dict(family=FONT, size=17, color="black"),
           ticklabelstandoff=6, fixedrange=True)

fig.update_layout(
    width=W, height=H, autosize=False,
    margin=dict(l=0, r=0, t=0, b=0, pad=0, autoexpand=False),
    paper_bgcolor="white", plot_bgcolor="white",
    separators=",.",
    font=dict(family=FONT, color="black"),
    xaxis=dict(xax, domain=[px(91), px(386)], anchor="y"),
    yaxis=dict(yax, domain=[py(1283), py(134)], anchor="x"),
    xaxis2=dict(xax, domain=[px(653), px(948)], anchor="y2"),
    yaxis2=dict(yax, domain=[py(1283), py(134)], anchor="x2"),
    legend=dict(x=px(388), y=py(830), xanchor="left", yanchor="top",
                bgcolor="white", bordercolor="black", borderwidth=1,
                font=dict(family=FONT, size=11.5, color="black"),
                tracegroupgap=7, itemwidth=45, itemclick=False, itemdoubleclick=False),
    legend2=dict(x=px(950), y=py(789), xanchor="left", yanchor="top",
                 bgcolor="white", bordercolor="black", borderwidth=1,
                 font=dict(family=FONT, size=11.5, color="black"),
                 tracegroupgap=7, itemwidth=45, itemclick=False, itemdoubleclick=False),
    showlegend=True,
)

# panel frames
fig.add_shape(type="rect", xref="paper", yref="paper", x0=px(8.5), x1=px(567.5),
              y0=-0.02, y1=py(8.5), line=dict(color="black", width=1), layer="below")
fig.add_shape(type="rect", xref="paper", yref="paper", x0=px(569.5), x1=px(1140),
              y0=-0.02, y1=py(8.5), line=dict(color="black", width=1), layer="below")

ann = []
for cx, title in [(305, "EIXO&nbsp; A - DESL.&nbsp; HORIZONTAL"),
                  (866, "EIXO&nbsp; B - DESL.&nbsp; HORIZONTAL")]:
    ann.append(dict(x=px(cx), y=py(53), xref="paper", yref="paper", text=f"<b>{title}</b>",
                    showarrow=False, xanchor="center", yanchor="middle",
                    font=dict(family=FONT, size=19, color="black")))
for cx in (255, 831):
    ann.append(dict(x=px(cx), y=py(87), xref="paper", yref="paper",
                    text="<b>Deslocamento (mm)</b>", showarrow=False,
                    xanchor="center", yanchor="middle",
                    font=dict(family=FONT, size=17.5, color="black")))
for cx in (33, 595):
    ann.append(dict(x=px(cx), y=py(708), xref="paper", yref="paper", text="<b>Prof (m)</b>",
                    showarrow=False, textangle=-90, xanchor="center", yanchor="middle",
                    font=dict(family=FONT, size=18, color="black")))
fig.update_layout(annotations=ann)

fig.write_html("out.html", include_plotlyjs=True,
               post_script="document.body.style.margin='0';",
               config={"displayModeBar": False})
